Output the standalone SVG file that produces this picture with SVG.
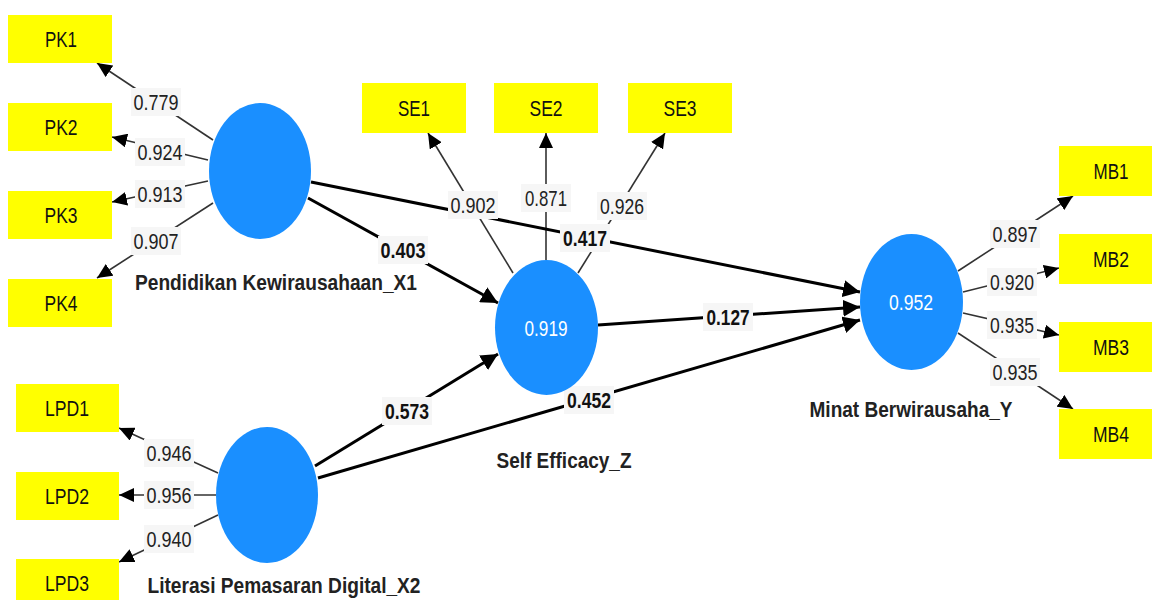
<svg xmlns="http://www.w3.org/2000/svg" width="1152" height="600" viewBox="0 0 1152 600">
<style>
text{font-family:"Liberation Sans",Arial,sans-serif;}
.ind rect{fill:#ffff00;}
.ind text{font-size:22px;fill:#111;text-anchor:middle;}
.lat ellipse{fill:#1a8fff;}
.lat .v{font-size:22px;fill:#fff;text-anchor:middle;}
.lat .n{font-size:22px;font-weight:bold;fill:#222;text-anchor:middle;}
.thin{stroke:#333;stroke-width:1.6;fill:none;marker-end:url(#ah);}
.thick{stroke:#000;stroke-width:3;fill:none;marker-end:url(#ahb);}
.lb rect{fill:#f6f6f6;}
.lb text{font-size:22px;fill:#222;text-anchor:middle;}
.lb text.b{font-weight:bold;fill:#111;}
</style>
<defs>
<marker id="ah" markerUnits="userSpaceOnUse" markerWidth="15" markerHeight="14" refX="15" refY="7" orient="auto"><path d="M0,0 L15,7 L0,14 z" fill="#000"/></marker>
<marker id="ahb" markerUnits="userSpaceOnUse" markerWidth="17" markerHeight="17" refX="17" refY="8.5" orient="auto"><path d="M0,0 L17,8.5 L0,17 z" fill="#000"/></marker>
</defs>
<rect width="1152" height="600" fill="#fff"/>

<g id="connectors">
<line class="thin" x1="213" y1="140" x2="97" y2="63"/>
<line class="thin" x1="208" y1="160" x2="112" y2="137"/>
<line class="thin" x1="208" y1="181" x2="112" y2="202"/>
<line class="thin" x1="213" y1="203" x2="97" y2="278"/>
<line class="thin" x1="513" y1="273" x2="428" y2="133"/>
<line class="thin" x1="546" y1="260" x2="546" y2="133"/>
<line class="thin" x1="578" y1="273" x2="665" y2="133"/>
<line class="thin" x1="958" y1="271" x2="1073" y2="196"/>
<line class="thin" x1="963" y1="292" x2="1059" y2="268"/>
<line class="thin" x1="963" y1="313" x2="1059" y2="335"/>
<line class="thin" x1="958" y1="333" x2="1073" y2="409"/>
<line class="thin" x1="218" y1="473" x2="119" y2="428"/>
<line class="thin" x1="216" y1="495" x2="119" y2="495"/>
<line class="thin" x1="218" y1="515" x2="119" y2="562"/>
<line class="thick" x1="311" y1="182" x2="860" y2="292"/>
<line class="thick" x1="308" y1="198" x2="498" y2="303"/>
<line class="thick" x1="598" y1="325" x2="860" y2="307"/>
<line class="thick" x1="315" y1="466" x2="498" y2="354"/>
<line class="thick" x1="318" y1="478" x2="860" y2="320"/>

<g class="lb">
<rect x="131" y="88" width="50" height="28"/><text x="156" y="110" textLength="45" lengthAdjust="spacingAndGlyphs">0.779</text>
<rect x="135" y="138" width="50" height="28"/><text x="160" y="160" textLength="45" lengthAdjust="spacingAndGlyphs">0.924</text>
<rect x="135" y="180" width="50" height="28"/><text x="160" y="202" textLength="45" lengthAdjust="spacingAndGlyphs">0.913</text>
<rect x="131" y="227" width="50" height="28"/><text x="156" y="249" textLength="45" lengthAdjust="spacingAndGlyphs">0.907</text>
<rect x="448" y="191" width="50" height="28"/><text x="473" y="213" textLength="45" lengthAdjust="spacingAndGlyphs">0.902</text>
<rect x="521" y="184" width="50" height="28"/><text x="546" y="206" textLength="42" lengthAdjust="spacingAndGlyphs">0.871</text>
<rect x="597" y="192" width="50" height="28"/><text x="622" y="214" textLength="44" lengthAdjust="spacingAndGlyphs">0.926</text>
<rect x="990" y="220" width="50" height="28"/><text x="1015" y="242" textLength="45" lengthAdjust="spacingAndGlyphs">0.897</text>
<rect x="987" y="268" width="50" height="28"/><text x="1012" y="290" textLength="44" lengthAdjust="spacingAndGlyphs">0.920</text>
<rect x="987" y="311" width="50" height="28"/><text x="1012" y="333" textLength="44" lengthAdjust="spacingAndGlyphs">0.935</text>
<rect x="990" y="358" width="50" height="28"/><text x="1015" y="380" textLength="45" lengthAdjust="spacingAndGlyphs">0.935</text>
<rect x="144" y="439" width="50" height="28"/><text x="169" y="461" textLength="45" lengthAdjust="spacingAndGlyphs">0.946</text>
<rect x="144" y="481" width="50" height="28"/><text x="169" y="503" textLength="45" lengthAdjust="spacingAndGlyphs">0.956</text>
<rect x="144" y="525" width="50" height="28"/><text x="169" y="547" textLength="45" lengthAdjust="spacingAndGlyphs">0.940</text>
<rect x="560" y="224" width="50" height="28"/><text class="b" x="585" y="246" textLength="44" lengthAdjust="spacingAndGlyphs">0.417</text>
<rect x="378" y="236" width="50" height="28"/><text class="b" x="403" y="258" textLength="45" lengthAdjust="spacingAndGlyphs">0.403</text>
<rect x="382" y="397" width="50" height="28"/><text class="b" x="407" y="419" textLength="44" lengthAdjust="spacingAndGlyphs">0.573</text>
<rect x="703" y="303" width="50" height="28"/><text class="b" x="728" y="325" textLength="43" lengthAdjust="spacingAndGlyphs">0.127</text>
<rect x="564" y="386" width="50" height="28"/><text class="b" x="589" y="408" textLength="44" lengthAdjust="spacingAndGlyphs">0.452</text>
</g>
</g>

<g id="PK1" class="ind"><rect x="8" y="15" width="104" height="48"/><text x="61" y="47" textLength="32" lengthAdjust="spacingAndGlyphs">PK1</text></g>
<g id="PK2" class="ind"><rect x="8" y="103" width="104" height="48"/><text x="61" y="135" textLength="33" lengthAdjust="spacingAndGlyphs">PK2</text></g>
<g id="PK3" class="ind"><rect x="8" y="191" width="104" height="48"/><text x="61" y="223" textLength="33" lengthAdjust="spacingAndGlyphs">PK3</text></g>
<g id="PK4" class="ind"><rect x="8" y="279" width="104" height="48"/><text x="61" y="311" textLength="33" lengthAdjust="spacingAndGlyphs">PK4</text></g>
<g id="SE1" class="ind"><rect x="362" y="83" width="104" height="50"/><text x="414" y="116" textLength="32" lengthAdjust="spacingAndGlyphs">SE1</text></g>
<g id="SE2" class="ind"><rect x="494" y="83" width="104" height="50"/><text x="546" y="116" textLength="33" lengthAdjust="spacingAndGlyphs">SE2</text></g>
<g id="SE3" class="ind"><rect x="628" y="83" width="104" height="50"/><text x="680" y="116" textLength="33" lengthAdjust="spacingAndGlyphs">SE3</text></g>
<g id="MB1" class="ind"><rect x="1059" y="146" width="104" height="50"/><text x="1111" y="179" textLength="35" lengthAdjust="spacingAndGlyphs">MB1</text></g>
<g id="MB2" class="ind"><rect x="1059" y="234" width="104" height="50"/><text x="1111" y="267" textLength="36" lengthAdjust="spacingAndGlyphs">MB2</text></g>
<g id="MB3" class="ind"><rect x="1059" y="322" width="104" height="50"/><text x="1111" y="355" textLength="36" lengthAdjust="spacingAndGlyphs">MB3</text></g>
<g id="MB4" class="ind"><rect x="1059" y="409" width="104" height="50"/><text x="1111" y="442" textLength="36" lengthAdjust="spacingAndGlyphs">MB4</text></g>
<g id="LPD1" class="ind"><rect x="16" y="384" width="103" height="48"/><text x="67" y="416" textLength="44" lengthAdjust="spacingAndGlyphs">LPD1</text></g>
<g id="LPD2" class="ind"><rect x="16" y="472" width="103" height="48"/><text x="67" y="504" textLength="44" lengthAdjust="spacingAndGlyphs">LPD2</text></g>
<g id="LPD3" class="ind"><rect x="16" y="559" width="103" height="48"/><text x="67" y="591" textLength="44" lengthAdjust="spacingAndGlyphs">LPD3</text></g>

<g id="PK" class="lat"><ellipse cx="260" cy="171" rx="51" ry="68"/><text class="n" x="276" y="290" textLength="282" lengthAdjust="spacingAndGlyphs">Pendidikan Kewirausahaan_X1</text></g>
<g id="SE" class="lat"><ellipse cx="546.5" cy="327.5" rx="51.5" ry="67.5"/><text class="v" x="546" y="336" textLength="43" lengthAdjust="spacingAndGlyphs">0.919</text><text class="n" x="564" y="468" textLength="135" lengthAdjust="spacingAndGlyphs">Self Efficacy_Z</text></g>
<g id="MB" class="lat"><ellipse cx="911.5" cy="302" rx="51.5" ry="68"/><text class="v" x="911" y="310" textLength="44" lengthAdjust="spacingAndGlyphs">0.952</text><text class="n" x="911" y="417" textLength="203" lengthAdjust="spacingAndGlyphs">Minat Berwirausaha_Y</text></g>
<g id="LPD" class="lat"><ellipse cx="267" cy="495" rx="51" ry="68"/><text class="n" x="284" y="593" textLength="273" lengthAdjust="spacingAndGlyphs">Literasi Pemasaran Digital_X2</text></g>
</svg>
